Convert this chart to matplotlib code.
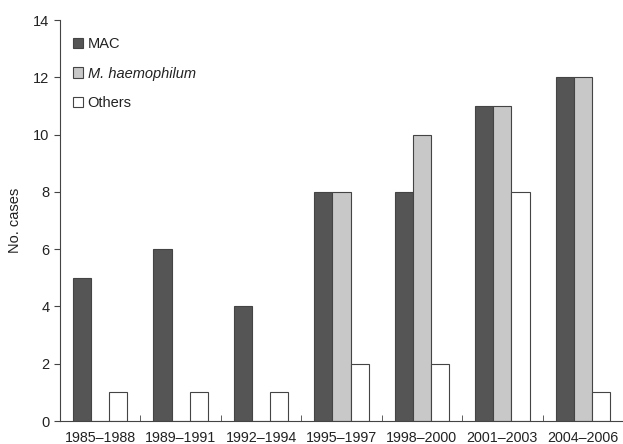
import matplotlib
matplotlib.use("Agg")
import matplotlib.pyplot as plt
import numpy as np

categories = ["1985–1988", "1989–1991", "1992–1994", "1995–1997", "1998–2000", "2001–2003", "2004–2006"]
mac = [5, 6, 4, 8, 8, 11, 12]
mhaem = [0, 0, 0, 8, 10, 11, 12]
others = [1, 1, 1, 2, 2, 8, 1]

plt.rcParams['font.family'] = ['Liberation Sans', 'DejaVu Sans']
tc = '#222222'
fig = plt.figure(figsize=(6.23, 4.44), dpi=100)
ax = fig.add_axes([0.0963, 0.0518, 0.9037, 0.903])

x = np.arange(len(categories))
w = 0.225
ec = '#444444'
ax.bar(x - w, mac, w, color='#555555', edgecolor=ec, linewidth=0.8, label='MAC')
ax.bar(x, mhaem, w, color='#c8c8c8', edgecolor=ec, linewidth=0.8, label='M. haemophilum')
ax.bar(x + w, others, w, color='white', edgecolor=ec, linewidth=0.8, label='Others')

ax.set_xlim(-0.5, len(categories) - 0.5)
ax.set_ylim(0, 14)
ax.set_yticks(range(0, 15, 2))
ax.set_xticks(x)
ax.set_xticklabels(categories, fontsize=10.3, color=tc)
ax.tick_params(axis='x', length=0, pad=7)
ax.set_xticks(np.arange(0.5, len(categories) - 0.5, 1), minor=True)
ax.tick_params(axis='x', which='minor', direction='in', length=4, color='#444444')
ax.tick_params(axis='y', direction='out', length=4, labelsize=10.5, color='#444444', labelcolor=tc)
for s in ['top', 'right']:
    ax.spines[s].set_visible(False)
for s in ['left', 'bottom']:
    ax.spines[s].set_color('#444444')
ax.set_ylabel('No. cases', fontsize=10.5, color=tc, labelpad=8)

leg = ax.legend(loc='upper left', bbox_to_anchor=(0.0, 0.99), frameon=False, fontsize=10.5,
                handlelength=0.7, handleheight=0.7, handletextpad=0.3, labelspacing=1.05,
                borderaxespad=0.5)
for t in leg.get_texts():
    t.set_color(tc)
    if t.get_text().startswith('M.'):
        t.set_fontstyle('italic')

fig.savefig('out.png', dpi=100)
